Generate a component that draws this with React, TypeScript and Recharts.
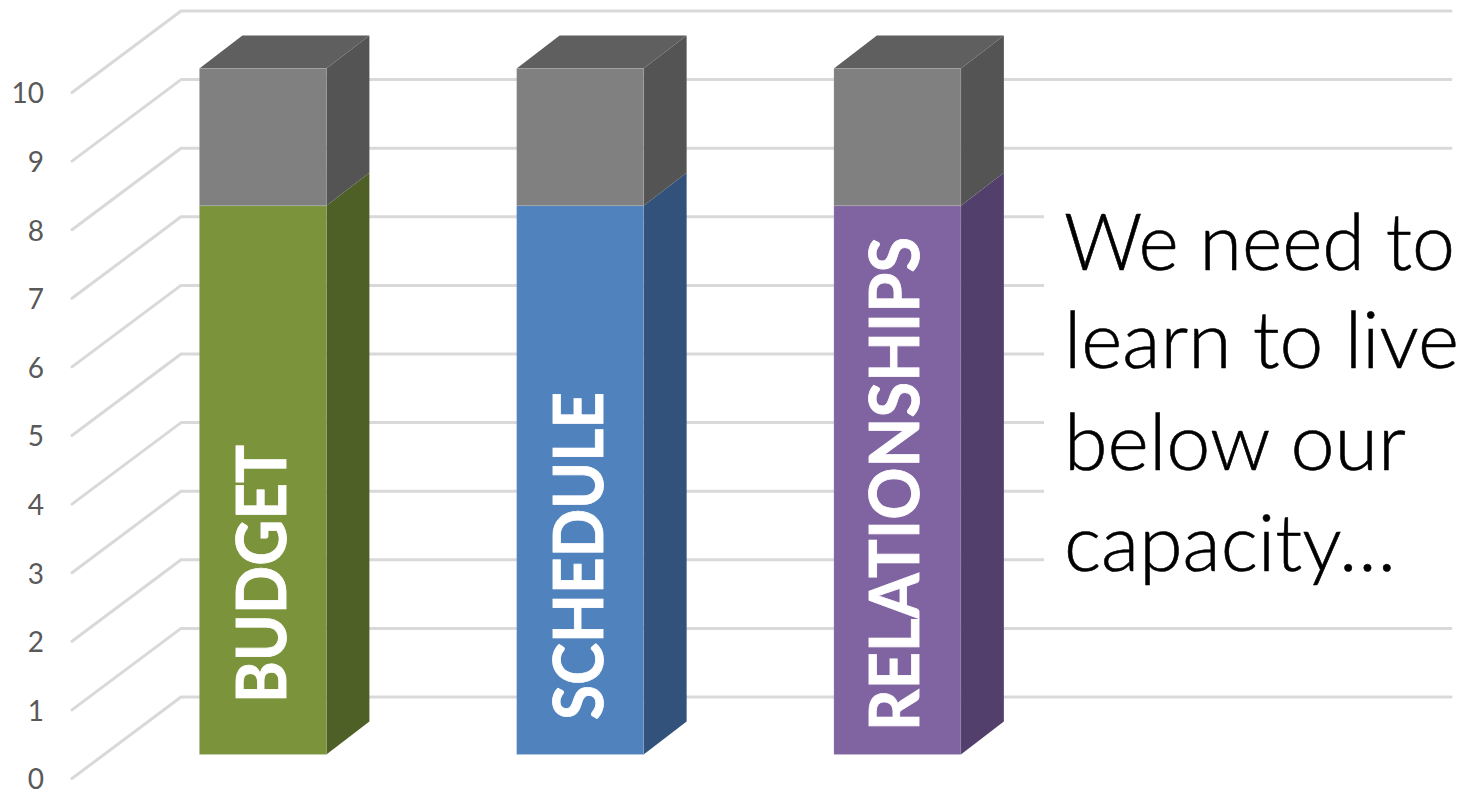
import React from "react";
import { BarChart, Bar, XAxis, YAxis, CartesianGrid, LabelList } from "recharts";

const categories = ["BUDGET", "SCHEDULE", "RELATIONSHIPS"];
const usedValues = [8, 8, 8];
const reserveValues = [2, 2, 2];
const yTicks = [0, 1, 2, 3, 4, 5, 6, 7, 8, 9, 10];
const noteLines = ["We need to", "learn to live", "below our", "capacity…"];

const data = categories.map((name, i) => ({ name, used: usedValues[i], reserve: reserveValues[i] }));

const frontColors = ["#7b943c", "#5082be", "#8064a2"];
const sideColors = ["#4f6027", "#32527b", "#533f6b"];
const reserveFront = "#808080";
const reserveSide = "#545454";
const reserveTop = "#5f5f5f";

const W = 1465;
const H = 793;
const PLOT_LEFT = 72;
const PLOT_TOP = 92.5;
const PLOT_BOTTOM = 778.5;
const WALL_DX = 109;
const WALL_DY = 81.5;
const WALL_RIGHT = 1451;
const BAR_LIFT = 24;
const SIDE_DX = 43;
const SIDE_DY = 33;

const labelStart = [703, 720, 731];
const labelBaseline = [285.5, 603, 918.5];
const labelLength = [258, 328, 494];
const noteBaselines = [270, 368, 470, 571];
const noteLengths = [391, 395, 342, 332];

const gridLine = (p: any) => {
  const { x1, y1, key } = p;
  const pts = `${x1},${y1} ${x1 + WALL_DX},${y1 - WALL_DY} ${WALL_RIGHT},${y1 - WALL_DY}`;
  return <polyline key={key ?? y1} points={pts} fill="none" stroke="#d9d9d9" strokeWidth={3} strokeLinecap="round" strokeLinejoin="round" />;
};

const Block = ({ x, y, width, height, front, side, top }: any) => {
  const Y = y - BAR_LIFT;
  const R = x + width;
  return (
    <g>
      <polygon points={`${R},${Y} ${R + SIDE_DX},${Y - SIDE_DY} ${R + SIDE_DX},${Y + height - SIDE_DY} ${R},${Y + height}`} fill={side} />
      {top && <polygon points={`${x},${Y} ${x + SIDE_DX},${Y - SIDE_DY} ${R + SIDE_DX},${Y - SIDE_DY} ${R},${Y}`} fill={top} />}
      <rect x={x} y={Y} width={width} height={height} fill={front} stroke="#ffffff" strokeOpacity={0.1} strokeWidth={1} />
    </g>
  );
};

const usedShape = (p: any) => <Block x={p.x} y={p.y} width={p.width} height={p.height} front={frontColors[p.index]} side={sideColors[p.index]} />;
const reserveShape = (p: any) => <Block x={p.x} y={p.y} width={p.width} height={p.height} front={reserveFront} side={reserveSide} top={reserveTop} />;

const barLabel = (p: any) => {
  const i = p.index;
  const bx = labelBaseline[i];
  const by = labelStart[i];
  return (
    <text
      key={i}
      transform={`translate(${bx},${by}) rotate(-90)`}
      fontFamily="Lato"
      fontWeight={700}
      fontSize={68}
      fill="#ffffff"
      stroke="#ffffff"
      strokeWidth={0.8}
      textLength={labelLength[i]}
      lengthAdjust="spacingAndGlyphs"
    >
      {categories[i]}
    </text>
  );
};

export default function App() {
  return (
    <div style={{ position: "absolute", left: 0, top: 0, width: W, height: H, overflow: "hidden", background: "#fff" }}>
      <BarChart
        width={W}
        height={H}
        data={data}
        margin={{ left: 0, top: PLOT_TOP, right: W - (WALL_RIGHT - WALL_DX), bottom: H - PLOT_BOTTOM }}
        barSize={127}
      >
        <CartesianGrid vertical={false} horizontal={gridLine} />
        <XAxis dataKey="name" hide padding={{ left: 32.4, right: 285.9 }} />
        <YAxis
          width={PLOT_LEFT}
          domain={[0, 10]}
          ticks={yTicks}
          interval={0}
          axisLine={false}
          tickLine={false}
          tickSize={0}
          tickMargin={28}
          tick={{ fontFamily: "Lato", fontSize: 28, fill: "#595959", dy: 1 }}
        />
        <Bar dataKey="used" stackId="a" shape={usedShape} isAnimationActive={false}>
          <LabelList dataKey="name" content={barLabel} />
        </Bar>
        <Bar dataKey="reserve" stackId="a" shape={reserveShape} isAnimationActive={false} />
      </BarChart>
      <svg width={W} height={H} style={{ position: "absolute", left: 0, top: 0, pointerEvents: "none" }}>
        <rect x={1044} y={165} width={421} height={430} fill="#ffffff" />
        {noteLines.map((t, i) => (
          <text key={t} x={1064} y={noteBaselines[i]} fontFamily="Lato" fontWeight={300} fontSize={78} fill="#000000" stroke="#000000" strokeWidth={0.6} textLength={noteLengths[i]} lengthAdjust="spacingAndGlyphs">
            {t}
          </text>
        ))}
      </svg>
    </div>
  );
}
